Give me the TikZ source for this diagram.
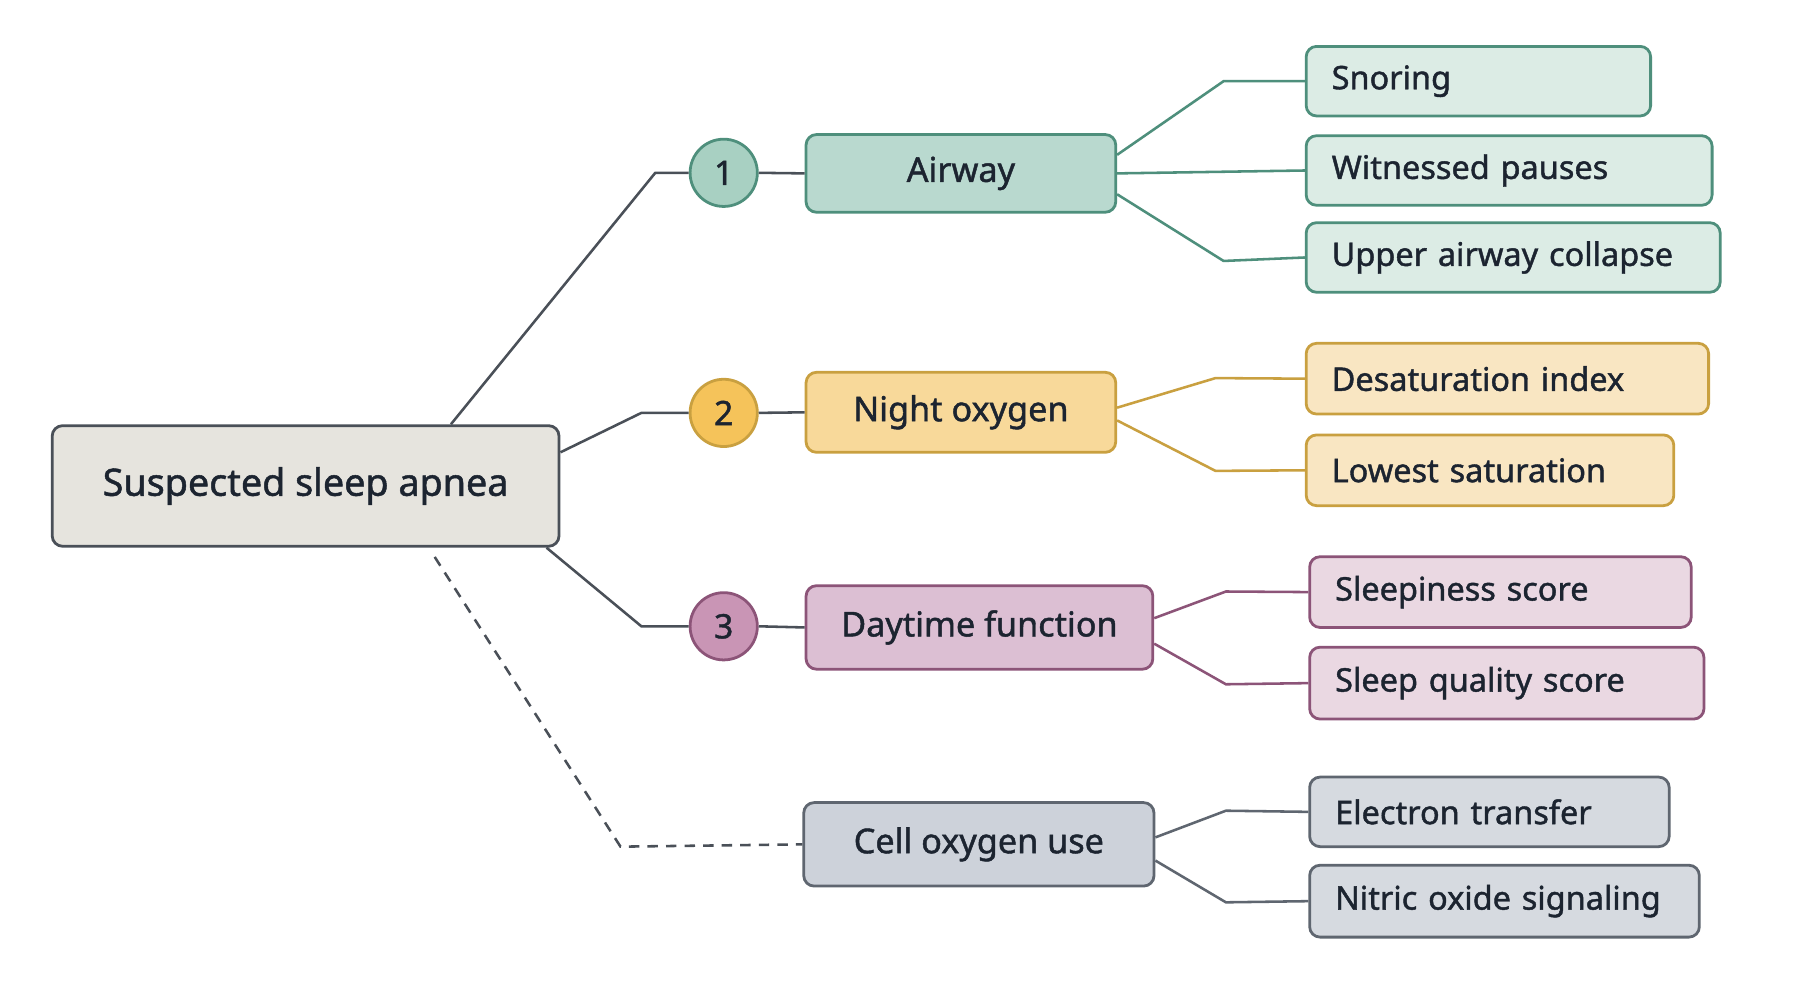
\documentclass[tikz,border=0pt]{standalone}
\usepackage{fontspec}
\setmainfont{Noto Sans}[UprightFeatures={FakeBold=1.3}]
\begin{document}
\begin{tikzpicture}[x=1pt,y=-1pt,
  base/.style={rounded corners=9pt,line width=2.4pt,text=txt,inner sep=0pt},
  root/.style={base,fill=rootf,draw=rootd,font=\fontsize{32.5}{36}\selectfont},
  mid/.style={base,font=\fontsize{29.5}{34}\selectfont},
  leaf/.style={base,font=\fontsize{28}{32}\selectfont,align=left},
  circ/.style={circle,line width=2.4pt,minimum size=58pt,inner sep=0pt,text=txt,font=\fontsize{29}{34}\selectfont},
  ln/.style={line width=2.2pt}]
\definecolor{txt}{HTML}{1C2430}
\definecolor{rootf}{HTML}{E6E4DE}\definecolor{rootd}{HTML}{4A5058}
\definecolor{tf}{HTML}{B9D9CF}\definecolor{td}{HTML}{4E8F7C}\definecolor{tl}{HTML}{DCECE5}\definecolor{tc}{HTML}{A8D0C2}
\definecolor{yf}{HTML}{F8D99A}\definecolor{yd}{HTML}{C9A040}\definecolor{yl}{HTML}{F9E6C2}\definecolor{yc}{HTML}{F5C35A}
\definecolor{pf}{HTML}{DCBFD3}\definecolor{pd}{HTML}{8C5478}\definecolor{pl}{HTML}{EAD8E2}\definecolor{pc}{HTML}{C995B5}
\definecolor{gf}{HTML}{CDD2DA}\definecolor{gd}{HTML}{5F6670}\definecolor{gl}{HTML}{D6DAE0}
\useasboundingbox[fill=white] (0,0) rectangle (1552,862);
\newcommand\lf[8]{\node[leaf,fill=#7,draw=#8,minimum height=#6pt,text width={#5-44pt},inner xsep=22pt,anchor=west] (#1) at (#2,#3) {#4};}
% root
\node[root,minimum width=437pt,minimum height=104pt] (root) at (263.5,419) {Suspected sleep apnea};
% circles
\node[circ,fill=tc,draw=td] (c1) at (624,149) {1};
\node[circ,fill=yc,draw=yd] (c2) at (624,356) {2};
\node[circ,fill=pc,draw=pd] (c3) at (624,540) {3};
% mid
\node[mid,fill=tf,draw=td,minimum width=267pt,minimum height=67pt] (air) at (828.5,149.5) {Airway};
\node[mid,fill=yf,draw=yd,minimum width=267pt,minimum height=69pt] (night) at (828.5,355.5) {Night oxygen};
\node[mid,fill=pf,draw=pd,minimum width=299pt,minimum height=72pt] (day) at (844.5,541) {Daytime function};
\node[mid,fill=gf,draw=gd,minimum width=302pt,minimum height=72pt] (cell) at (844,728) {Cell oxygen use};
% leaves
\lf{sn}{1125}{70}{Snoring}{297pt}{60}{tl}{td}
\lf{wp}{1125}{147}{Witnessed pauses}{350pt}{60}{tl}{td}
\lf{ua}{1125}{222}{Upper airway collapse}{357pt}{60}{tl}{td}
\lf{di}{1125}{326.5}{Desaturation index}{347pt}{61}{yl}{yd}
\lf{ls}{1125}{405.5}{Lowest saturation}{317pt}{61}{yl}{yd}
\lf{ss}{1128}{510.5}{Sleepiness score}{329pt}{61}{pl}{pd}
\lf{sq}{1128}{589}{Sleep quality score}{340pt}{62}{pl}{pd}
\lf{et}{1128}{700}{Electron transfer}{310pt}{60}{gl}{gd}
\lf{no}{1128}{777}{Nitric oxide signaling}{336pt}{62}{gl}{gd}
% root connectors
\draw[ln,rootd] ([xshift=345pt]root.north west) -- (565,149) -- (c1.west);
\draw[ln,rootd] ([yshift=29pt]root.east) -- (553,356) -- (c2.west);
\draw[ln,rootd] ([xshift=-12pt]root.south east) -- (553,540) -- (c3.west);
\draw[ln,rootd,dash pattern=on 9pt off 7pt] ([xshift=331pt,yshift=-8pt]root.south west) -- (535,730) -- (cell.west);
\draw[ln,rootd] (c1.east) -- (air.west);
\draw[ln,rootd] (c2.east) -- (night.west);
\draw[ln,rootd] (c3.east) -- (day.west);
% branches
\draw[ln,td] ([yshift=16pt]air.east) -- (1055,70) -- (sn.west);
\draw[ln,td] (air.east) -- (wp.west);
\draw[ln,td] ([yshift=-18pt]air.east) -- (1055,225) -- (ua.west);
\draw[ln,yd] ([yshift=4pt]night.east) -- (1048,326) -- (di.west);
\draw[ln,yd] ([yshift=-7pt]night.east) -- (1048,406) -- (ls.west);
\draw[ln,pd] ([yshift=8pt]day.east) -- (1057,510) -- (ss.west);
\draw[ln,pd] ([yshift=-14pt]day.east) -- (1057,590) -- (sq.west);
\draw[ln,gd] ([yshift=6pt]cell.east) -- (1057,699) -- (et.west);
\draw[ln,gd] ([yshift=-14pt]cell.east) -- (1057,778) -- (no.west);
\end{tikzpicture}
\end{document}
